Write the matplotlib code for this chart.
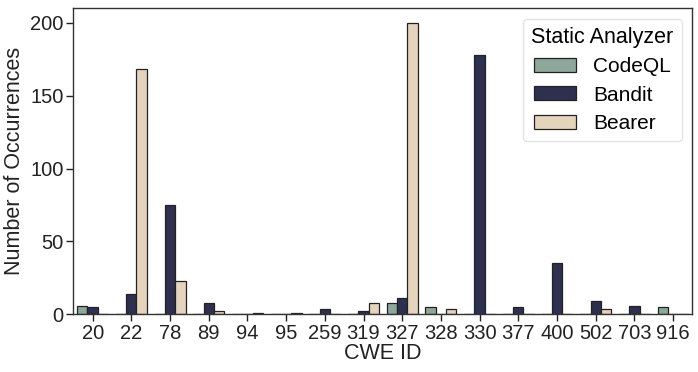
import matplotlib
matplotlib.use("Agg")
import matplotlib.pyplot as plt
import numpy as np

categories = ["20", "22", "78", "89", "94", "95", "259", "319", "327", "328", "330", "377", "400", "502", "703", "916"]
codeql = [6, 0, 0, 0, 0, 0, 0, 0, 8, 5, 0, 0, 0, 0, 0, 5]
bandit = [5, 14, 75, 8, 0, 0, 4, 2, 11, 0, 178, 5, 35, 9, 6, 0]
bearer = [0, 168, 23, 2, 1, 1, 0, 8, 200, 4, 0, 0, 0, 4, 0, 0]
series = ["CodeQL", "Bandit", "Bearer"]
colors = ["#8da89b", "#2f2f4f", "#e5d4bc"]

plt.rcParams['font.family'] = ['Liberation Sans', 'DejaVu Sans']

fig, ax = plt.subplots(figsize=(6.98, 3.72), dpi=100)
x = np.arange(len(categories))
w = 0.8 / 3
for i, (name, vals, c) in enumerate(zip(series, [codeql, bandit, bearer], colors)):
    ax.bar(x + (i - 1) * w, vals, width=w, color=c, edgecolor="#222222", linewidth=0.9, label=name)

ax.set_xlim(-0.5, len(categories) - 0.5)
ax.set_ylim(0, 210)
ax.set_xticks(x)
ax.set_xticklabels(categories)
ax.set_yticks([0, 50, 100, 150, 200])
ax.tick_params(labelsize=14.5, length=5, width=1, colors="#222222", pad=2)
ax.set_xlabel("CWE ID", fontsize=15.5, color="#222222", labelpad=0)
ax.set_ylabel("Number of Occurrences", fontsize=15.5, color="#222222", labelpad=4)
for s in ax.spines.values():
    s.set_color("#333333")
    s.set_linewidth(1)

leg = ax.legend(title="Static Analyzer", fontsize=15, title_fontsize=15.5, loc="upper right",
                frameon=True, fancybox=True, handlelength=2.0, handleheight=0.65,
                borderpad=0.4, labelspacing=0.45, bbox_to_anchor=(1.0, 1.0))
leg.get_frame().set_edgecolor("#dddddd")

fig.subplots_adjust(left=0.105, right=0.992, top=0.978, bottom=0.155)
fig.savefig("out.png", dpi=100)
